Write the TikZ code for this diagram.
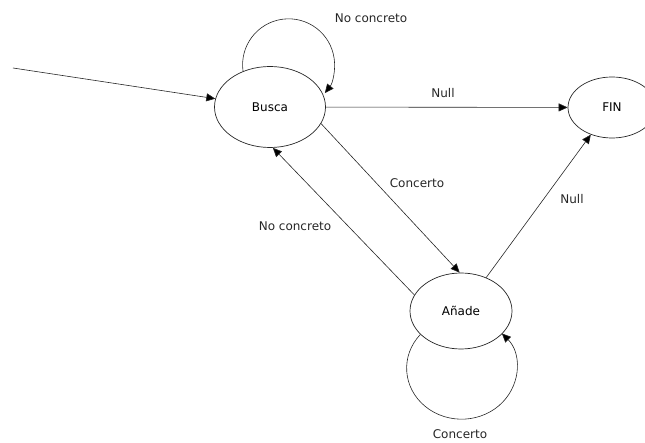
\documentclass[tikz,border=0pt]{standalone}
\usepackage{fontspec}
\setmainfont{DejaVu Sans}
\usetikzlibrary{arrows.meta,shapes.geometric}
\begin{document}
\begin{tikzpicture}[x=1pt,y=1pt,
  state/.style={draw=black!85,ellipse,line width=0.7pt,inner sep=0pt,font=\fontsize{12}{14}\selectfont},
  edge/.style={draw=black!85,line width=0.6pt,-{Triangle[length=9pt,width=8pt,fill=black]}},
  lbl/.style={font=\fontsize{12}{14}\selectfont,text=black!85}]
\useasboundingbox (0,0) rectangle (645,442);
\begin{scope}
\clip (0,0) rectangle (645,442);
% states
\node[state,minimum width=111pt,minimum height=81pt] (busca) at (270,335) {Busca};
\node[state,minimum width=88pt,minimum height=61pt] (fin) at (612,334.5) {FIN};
\node[state,minimum width=102pt,minimum height=76pt] (anade) at (461,131) {Añade};
\end{scope}
\coordinate (init) at (13,374);
% transitions
\draw[edge] (init) -- (busca);
\draw[edge] (busca) -- (fin);
\draw[edge] (busca.-18) -- (anade.92);
\draw[edge] (anade.161) -- (busca.-86);
\draw[edge] (anade.53) -- (fin.232);
\draw[edge] (busca.127) arc[start angle=188,end angle=-38,radius=46];
\draw[edge] (anade.210) arc[start angle=138.6,end angle=403,x radius=55,y radius=51];
% labels
\node[lbl] (l1) at (371,424) {No concreto};
\node[lbl] (l2) at (443,349) {Null};
\node[lbl] (l3) at (417,259) {Concerto};
\node[lbl] (l4) at (295,216) {No concreto};
\node[lbl] (l5) at (572,243) {Null};
\node[lbl] (l6) at (460,8) {Concerto};
\end{tikzpicture}
\end{document}
